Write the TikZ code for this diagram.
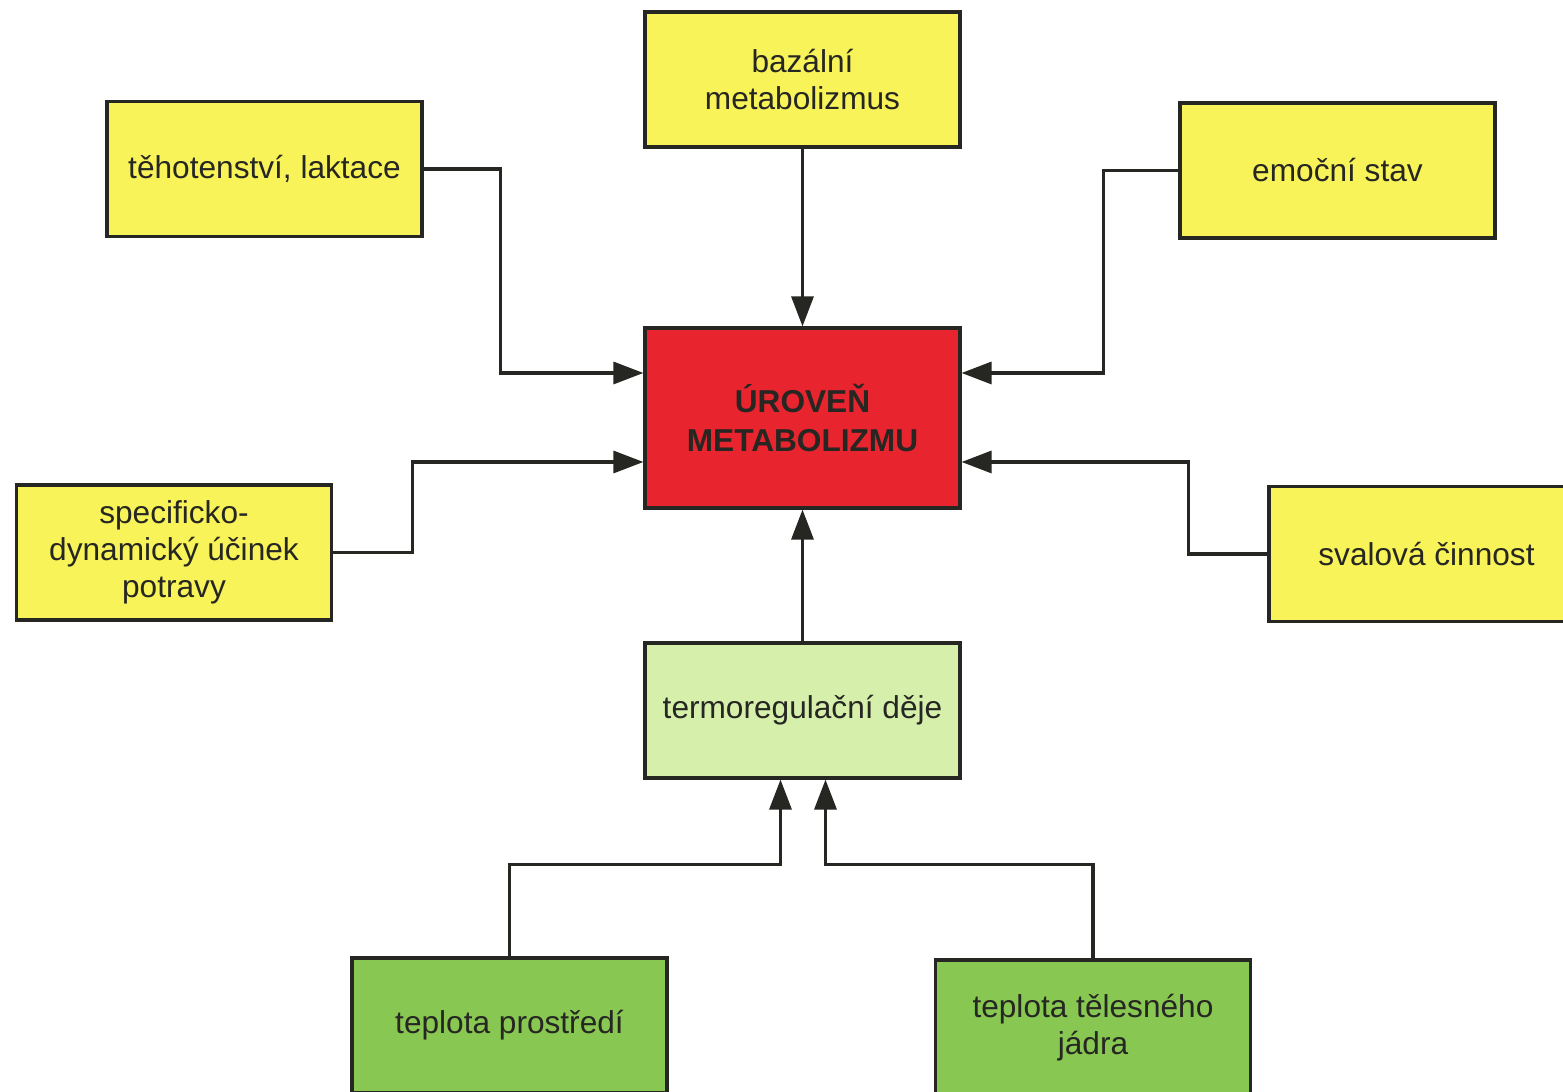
\documentclass[tikz,border=0pt]{standalone}
\usepackage{fontspec}
\setmainfont{Liberation Sans}
\definecolor{mtyellow}{RGB}{248,243,88}
\definecolor{mtred}{RGB}{232,36,46}
\definecolor{mtlgreen}{RGB}{214,240,172}
\definecolor{mtgreen}{RGB}{136,200,82}
\definecolor{mtink}{RGB}{38,38,34}
\usetikzlibrary{arrows.meta,positioning}

\begin{document}
\begin{tikzpicture}[
  box/.style={draw=mtink,line width=0.9pt,minimum width=3.15cm,minimum height=1.35cm,
    font=\fontsize{9}{10.5}\selectfont,align=center,text=mtink,inner sep=2pt},
  mainbox/.style={box,minimum height=1.8cm,fill=mtred,
    font=\fontsize{9}{11.3}\selectfont\bfseries},
  arr/.style={-{Triangle[length=3mm,width=2.2mm]},line width=0.9pt,draw=mtink}
]
  \useasboundingbox[fill=white] (0,0) rectangle (15.63,-10.92);
  \clip (0,0) rectangle (15.63,-10.92);
  % Main node
  \node[mainbox] (main) at (8.025,-4.18) {ÚROVEŇ\\METABOLIZMU};
  % Factors (yellow)
  \node[box,fill=mtyellow] (bazal) at (8.025,-0.795) {bazální\\metabolizmus};
  \node[box,fill=mtyellow] (tehot) at (2.645,-1.69) {těhotenství, laktace};
  \node[box,fill=mtyellow] (emoce) at (13.375,-1.705) {emoční stav};
  \node[box,fill=mtyellow] (sdu) at (1.74,-5.525) {specificko-\\dynamický účinek\\potravy};
  \node[box,fill=mtyellow] (sval) at (14.265,-5.54) {svalová činnost};
  % Thermoregulation
  \node[box,fill=mtlgreen] (termo) at (8.025,-7.105) {termoregulační děje};
  \node[box,fill=mtgreen] (prostr) at (5.095,-10.255) {teplota prostředí};
  \node[box,fill=mtgreen] (jadro) at (10.93,-10.275) {teplota tělesného\\jádra};
  % Arrows
  \draw[arr] (bazal) -- (main);
  \draw[arr] (tehot.east) -- ++(0.77,0) |- ([yshift=4.5mm]main.west);
  \draw[arr] (emoce.west) -- ++(-0.75,0) |- ([yshift=4.5mm]main.east);
  \draw[arr] (sdu.east) -- ++(0.79,0) |- ([yshift=-4.4mm]main.west);
  \draw[arr] (sval.west) -- ++(-0.79,0) |- ([yshift=-4.4mm]main.east);
  \draw[arr] (termo) -- (main);
  \draw[arr] (prostr.north) -- ++(0,0.92) -| ([xshift=-2.2mm]termo.south);
  \draw[arr] (jadro.north) -- ++(0,0.94) -| ([xshift=2.3mm]termo.south);
\end{tikzpicture}
\end{document}
